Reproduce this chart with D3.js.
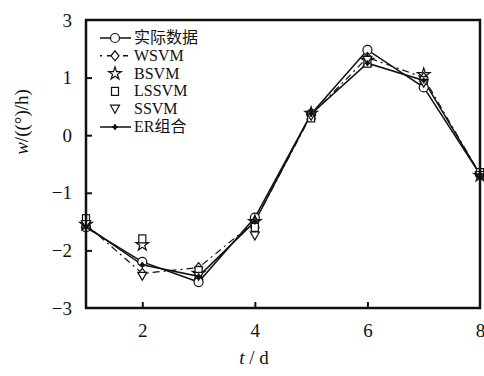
<!DOCTYPE html>
<html lang="zh">
<head>
<meta charset="UTF-8">
<script src="https://d3js.org/d3.v7.min.js"></script>
<style>
  body { margin: 0; background: #fff; }
  svg text { font-family: "Liberation Serif", "Times New Roman", "Noto Sans CJK SC", serif; fill: #111; }
</style>
</head>
<body>
<svg id="chart" width="484" height="376"></svg>
<script>
// data
const days = [1, 2, 3, 4, 5, 6, 7, 8];
const actual = [-1.6, -2.2, -2.55, -1.43, 0.37, 1.48, 0.83, -0.68];
const wsvm   = [-1.55, -2.4, -2.3, -1.5, 0.35, 1.35, 1.0, -0.68];
const bsvm   = [-1.55, -1.9, -2.4, -1.5, 0.38, 1.3, 1.05, -0.7];
const lssvm  = [-1.45, -1.8, -2.35, -1.6, 0.3, 1.25, 0.95, -0.65];
const ssvm   = [-1.55, -2.45, -2.45, -1.75, 0.33, 1.3, 0.9, -0.7];
const er     = [-1.58, -2.25, -2.45, -1.5, 0.37, 1.25, 0.95, -0.68];
const seriesNames = ["实际数据", "WSVM", "BSVM", "LSSVM", "SSVM", "ER组合"];
const xTicks = [2, 4, 6, 8];
const yTicks = [2, 1, 0, -1, -2, -3];
// the figure labels its top tick "3"
const yTickLabels = ["3", "1", "0", "\u22121", "\u22122", "\u22123"];

const svg = d3.select("#chart");
const x = d3.scaleLinear().domain([1, 8]).range([86, 480]);
const y = d3.scaleLinear().domain([-3, 2]).range([308, 20]);

const series = [
  { name: seriesNames[0], values: actual, marker: "circle", line: "solid" },
  { name: seriesNames[1], values: wsvm, marker: "diamond", line: "dashdot" },
  { name: seriesNames[2], values: bsvm, marker: "star", line: null },
  { name: seriesNames[3], values: lssvm, marker: "square", line: null },
  { name: seriesNames[4], values: ssvm, marker: "tri", line: null },
  { name: seriesNames[5], values: er, marker: "plus", line: "solid" }
];

function drawMarker(g, type, cx, cy) {
  const m = g.append("g").attr("transform", `translate(${cx},${cy})`)
    .attr("fill", "none").attr("stroke", "#111").attr("stroke-width", 1.2);
  if (type === "circle") m.append("circle").attr("r", 4.5).attr("fill", "#fff");
  if (type === "diamond") m.append("path").attr("d", "M0,-5L4,0L0,5L-4,0Z").attr("fill", "#fff");
  if (type === "square") m.append("rect").attr("x", -3.5).attr("y", -4).attr("width", 7).attr("height", 8).attr("fill", "#fff");
  if (type === "tri") m.append("path").attr("d", "M-4.5,-4L4.5,-4L0,4Z").attr("fill", "#fff");
  if (type === "star") m.append("path").attr("d", d3.symbol().type(d3.symbolStar).size(50)());
  if (type === "plus") {
    m.append("path").attr("d", "M-3,0L3,0M0,-3L0,3").attr("stroke-width", 1.6);
    m.append("circle").attr("r", 1.5).attr("fill", "#111");
  }
}

const line = d3.line().x((d, i) => x(days[i])).y(d => y(d));

// lines
series.forEach(s => {
  if (!s.line) return;
  svg.append("path").datum(s.values)
    .attr("d", line)
    .attr("fill", "none")
    .attr("stroke", "#111")
    .attr("stroke-width", s.line === "solid" ? 1.5 : 1.2)
    .attr("stroke-dasharray", s.line === "dashdot" ? "7,4,2,4" : null);
});

// markers
series.forEach(s => {
  const g = svg.append("g");
  s.values.forEach((v, i) => drawMarker(g, s.marker, x(days[i]), y(v)));
});

// frame
svg.append("rect").attr("x", 86).attr("y", 20).attr("width", 394).attr("height", 288)
  .attr("fill", "none").attr("stroke", "#111").attr("stroke-width", 2.5);

// ticks (inward)
svg.append("g").attr("transform", "translate(0,308)")
  .call(d3.axisBottom(x).tickValues(xTicks).tickFormat(d3.format("d"))
    .tickSizeInner(-6).tickSizeOuter(0).tickPadding(16))
  .call(g => g.select(".domain").remove())
  .call(g => g.selectAll("line").attr("stroke", "#111").attr("stroke-width", 2)
    .attr("display", d => d === 8 ? "none" : null))
  .call(g => g.selectAll("text").attr("font-size", 19).attr("font-family", "Liberation Serif"));

svg.append("g").attr("transform", "translate(86,0)")
  .call(d3.axisLeft(y).tickValues(yTicks).tickSizeInner(-6).tickSizeOuter(0).tickPadding(14)
    .tickFormat((d, i) => yTickLabels[i]))
  .call(g => g.select(".domain").remove())
  .call(g => g.selectAll("line").attr("stroke", "#111").attr("stroke-width", 2)
    .attr("display", d => (d === 2 || d === -3) ? "none" : null))
  .call(g => g.selectAll("text").attr("font-size", 19).attr("font-family", "Liberation Serif"));

// axis titles
const xt = svg.append("text").attr("x", 254).attr("y", 364).attr("text-anchor", "middle").attr("font-size", 19);
xt.append("tspan").attr("font-style", "italic").text("t");
xt.append("tspan").text(" / d");

const yt = svg.append("text").attr("transform", "translate(28,122) rotate(-90)")
  .attr("text-anchor", "middle").attr("font-size", 19);
yt.append("tspan").attr("font-style", "italic").text("w");
yt.append("tspan").text("/((°)/h)");

// legend
const lg = svg.append("g");
series.forEach((s, i) => {
  const ly = 38 + i * 17.8;
  if (s.line) {
    lg.append("line").attr("x1", 100).attr("x2", 131).attr("y1", ly).attr("y2", ly)
      .attr("stroke", "#111").attr("stroke-width", 1.5)
      .attr("stroke-dasharray", s.line === "dashdot" ? "2,5,5,4" : null);
  }
  drawMarker(lg, s.marker, 115, ly);
  lg.append("text").attr("x", 134).attr("y", ly + 5).attr("font-size", 16).text(s.name);
});
</script>
</body>
</html>
